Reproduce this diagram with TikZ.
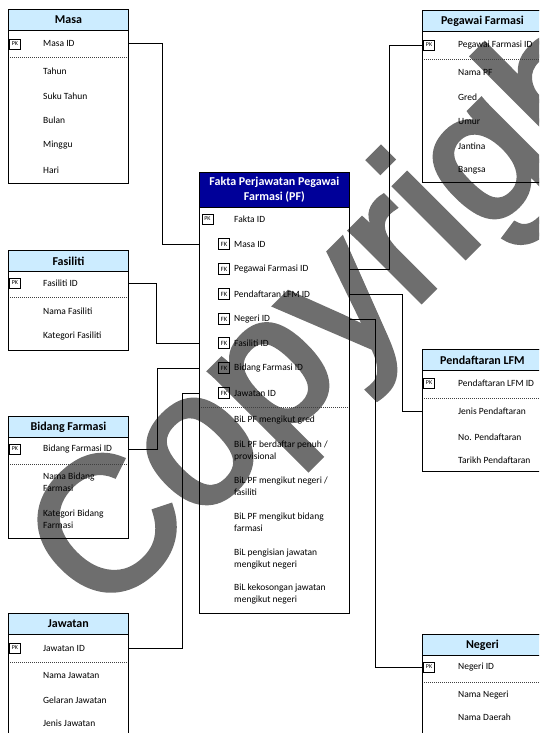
\documentclass[tikz,border=0pt]{standalone}
\usepackage{fontspec}
\setmainfont{Carlito}
\newfontfamily\wmfont[FakeBold=3]{Liberation Sans}
\definecolor{hdrblue}{HTML}{CCECFF}
\definecolor{factblue}{HTML}{000099}
\definecolor{wmgray}{RGB}{110,110,110}
\begin{document}
\begin{tikzpicture}[x=1pt,y=-1pt,
  entity/.style={draw, line width=0.8pt, anchor=north west, inner sep=0pt, minimum width=120pt},
  hdr/.style={draw, line width=0.8pt, fill=hdrblue, anchor=north west, inner sep=0pt,
    minimum width=120pt, minimum height=21pt, font=\fontsize{12}{15}\selectfont\bfseries},
  attr/.style={anchor=west, inner sep=0pt, font=\fontsize{9.5}{12}\selectfont, align=left},
  keybox/.style={draw, line width=0.7pt, inner sep=0pt, minimum width=11pt, minimum height=10pt,
    font=\fontsize{6}{6}\selectfont},
  sep/.style={draw, line width=0.6pt, black!75, dash pattern=on 1pt off 1pt},
  link/.style={draw, line width=0.8pt}
]
\useasboundingbox (0,0) rectangle (539,733);
\clip (0,0) rectangle (539,733);

% ---------- Watermark (underneath everything) ----------
\node[rotate=45, anchor=base west, inner sep=0pt, text=wmgray,
  font=\wmfont\fontsize{188}{188}\selectfont] (wm) at (102,620) {Copyright};

% ---------- Masa ----------
\node[entity, minimum height=174pt] (masa) at (8,9) {};
\node[hdr] (masa-h) at (8,9) {Masa};
\node[keybox] (masa-pk) at (15,44) {PK};
\node[attr] (masa-id) at (43,43) {Masa ID};
\draw[sep] ([xshift=2pt]masa.west |- 0,57) -- ([xshift=-2pt]masa.east |- 0,57);
\foreach \t/\y [count=\i] in {Tahun/71,Suku Tahun/96,Bulan/120,Minggu/145,Hari/170}
  \node[attr] (masa-\i) at (43,\y) {\t};

% ---------- Fasiliti ----------
\node[entity, minimum height=100pt] (fas) at (8,250) {};
\node[hdr] (fas-h) at (8,250) {Fasiliti};
\node[keybox] (fas-pk) at (15,283) {PK};
\node[attr] (fas-id) at (43,283) {Fasiliti ID};
\draw[sep] ([xshift=2pt]fas.west |- 0,297) -- ([xshift=-2pt]fas.east |- 0,297);
\node[attr] (fas-1) at (43,311) {Nama Fasiliti};
\node[attr] (fas-2) at (43,336) {Kategori Fasiliti};

% ---------- Bidang Farmasi ----------
\node[entity, minimum height=122pt] (bid) at (8,416) {};
\node[hdr] (bid-h) at (8,416) {Bidang Farmasi};
\node[keybox] (bid-pk) at (15,449) {PK};
\node[attr] (bid-id) at (43,449) {Bidang Farmasi ID};
\draw[sep] ([xshift=2pt]bid.west |- 0,464) -- ([xshift=-2pt]bid.east |- 0,464);
\node[attr] (bid-1) at (43,482.5) {Nama Bidang\\Farmasi};
\node[attr] (bid-2) at (43,519) {Kategori Bidang\\Farmasi};

% ---------- Jawatan ----------
\node[entity, minimum height=140pt] (jaw) at (8,613) {};
\node[hdr] (jaw-h) at (8,613) {Jawatan};
\node[keybox] (jaw-pk) at (15,648) {PK};
\node[attr] (jaw-id) at (43,648) {Jawatan ID};
\draw[sep] ([xshift=2pt]jaw.west |- 0,662) -- ([xshift=-2pt]jaw.east |- 0,662);
\foreach \t/\y [count=\i] in {Nama Jawatan/675,Gelaran Jawatan/700,Jenis Jawatan/723}
  \node[attr] (jaw-\i) at (43,\y) {\t};

% ---------- Pegawai Farmasi ----------
\node[entity, minimum height=172pt] (peg) at (422,10) {};
\node[hdr] (peg-h) at (422,10) {Pegawai Farmasi};
\node[keybox] (peg-pk) at (429,45) {PK};
\node[attr] (peg-id) at (458,45) {Pegawai Farmasi ID};
\draw[sep] ([xshift=2pt]peg.west |- 0,59) -- ([xshift=-2pt]peg.east |- 0,59);
\foreach \t/\y [count=\i] in {Nama PF/72,Gred/97,Umur/121,Jantina/146,Bangsa/170}
  \node[attr] (peg-\i) at (458,\y) {\t};

% ---------- Pendaftaran LFM ----------
\node[entity, minimum height=122pt] (pen) at (422,349) {};
\node[hdr] (pen-h) at (422,349) {Pendaftaran LFM};
\node[keybox] (pen-pk) at (429,383) {PK};
\node[attr] (pen-id) at (458,383) {Pendaftaran LFM ID};
\draw[sep] ([xshift=2pt]pen.west |- 0,398) -- ([xshift=-2pt]pen.east |- 0,398);
\node[attr] (pen-1) at (458,411) {Jenis Pendaftaran};
\node[attr] (pen-2) at (458,437) {No. Pendaftaran};
\node[attr] (pen-3) at (458,460) {Tarikh Pendaftaran};

% ---------- Negeri ----------
\node[entity, minimum height=120pt] (neg) at (422,634) {};
\node[hdr] (neg-h) at (422,634) {Negeri};
\node[keybox] (neg-pk) at (429,667) {PK};
\node[attr] (neg-id) at (458,667) {Negeri ID};
\draw[sep] ([xshift=2pt]neg.west |- 0,682) -- ([xshift=-2pt]neg.east |- 0,682);
\node[attr] (neg-1) at (458,695) {Nama Negeri};
\node[attr] (neg-2) at (458,717) {Nama Daerah};

% ---------- Fact table ----------
\node[entity, minimum width=150pt, minimum height=441pt] (fakta) at (199,172) {};
\node[hdr, fill=factblue, text=white, minimum width=150pt, minimum height=35pt, align=center]
  (fakta-h) at (199,172) {Fakta Perjawatan Pegawai\\Farmasi (PF)};
\node[keybox] (f-pk) at (207.5,219) {PK};
\node[attr] (f-id) at (234,219) {Fakta ID};
\foreach \n/\t/\y in {masa/Masa ID/244, peg/Pegawai Farmasi ID/269, pen/Pendaftaran LFM ID/294,
    neg/Negeri ID/319, fas/Fasiliti ID/343, bid/Bidang Farmasi ID/368, jaw/Jawatan ID/393}{
  \node[keybox, line width=0.9pt, minimum height=11.5pt, minimum width=11.5pt,
    font=\fontsize{6.5}{6.5}\selectfont] (f-\n-fk) at (224,\y) {FK};
  \node[attr] (f-\n) at (234,\y) {\t};
}
\draw[sep] ([xshift=2pt]fakta.west |- 0,407) -- ([xshift=-2pt]fakta.east |- 0,407);
\foreach \t/\y [count=\i] in {{BiL PF mengikut gred}/420,
    {BiL PF berdaftar penuh /\\provisional}/451,
    {BiL PF mengikut negeri /\\fasiliti}/486,
    {BiL PF mengikut bidang\\farmasi}/522,
    {BiL pengisian jawatan\\mengikut negeri}/559,
    {BiL kekosongan jawatan\\mengikut negeri}/594}
  \node[attr] (f-m\i) at (234,\y) {\t};

% ---------- Relationships ----------
\path[link] (masa.east |- masa-id) -| (162,0 |- f-masa) -- (fakta.west |- f-masa);
\path[link] (fas.east |- fas-id) -| (156,0 |- f-fas) -- (fakta.west |- f-fas);
\path[link] (bid.east |- bid-id) -| (157,0 |- f-bid) -- (fakta.west |- f-bid);
\path[link] (jaw.east |- jaw-id) -| (182,0 |- f-jaw) -- (fakta.west |- f-jaw);
\path[link] (fakta.east |- f-peg) -| (389,0 |- peg-id) -- (peg.west |- peg-id);
\path[link] (fakta.east |- f-pen) -| (402,0 |- pen-1) -- (pen.west |- pen-1);
\path[link] (fakta.east |- f-neg) -| (375,0 |- neg-id) -- (neg.west |- neg-id);
\end{tikzpicture}
\end{document}
